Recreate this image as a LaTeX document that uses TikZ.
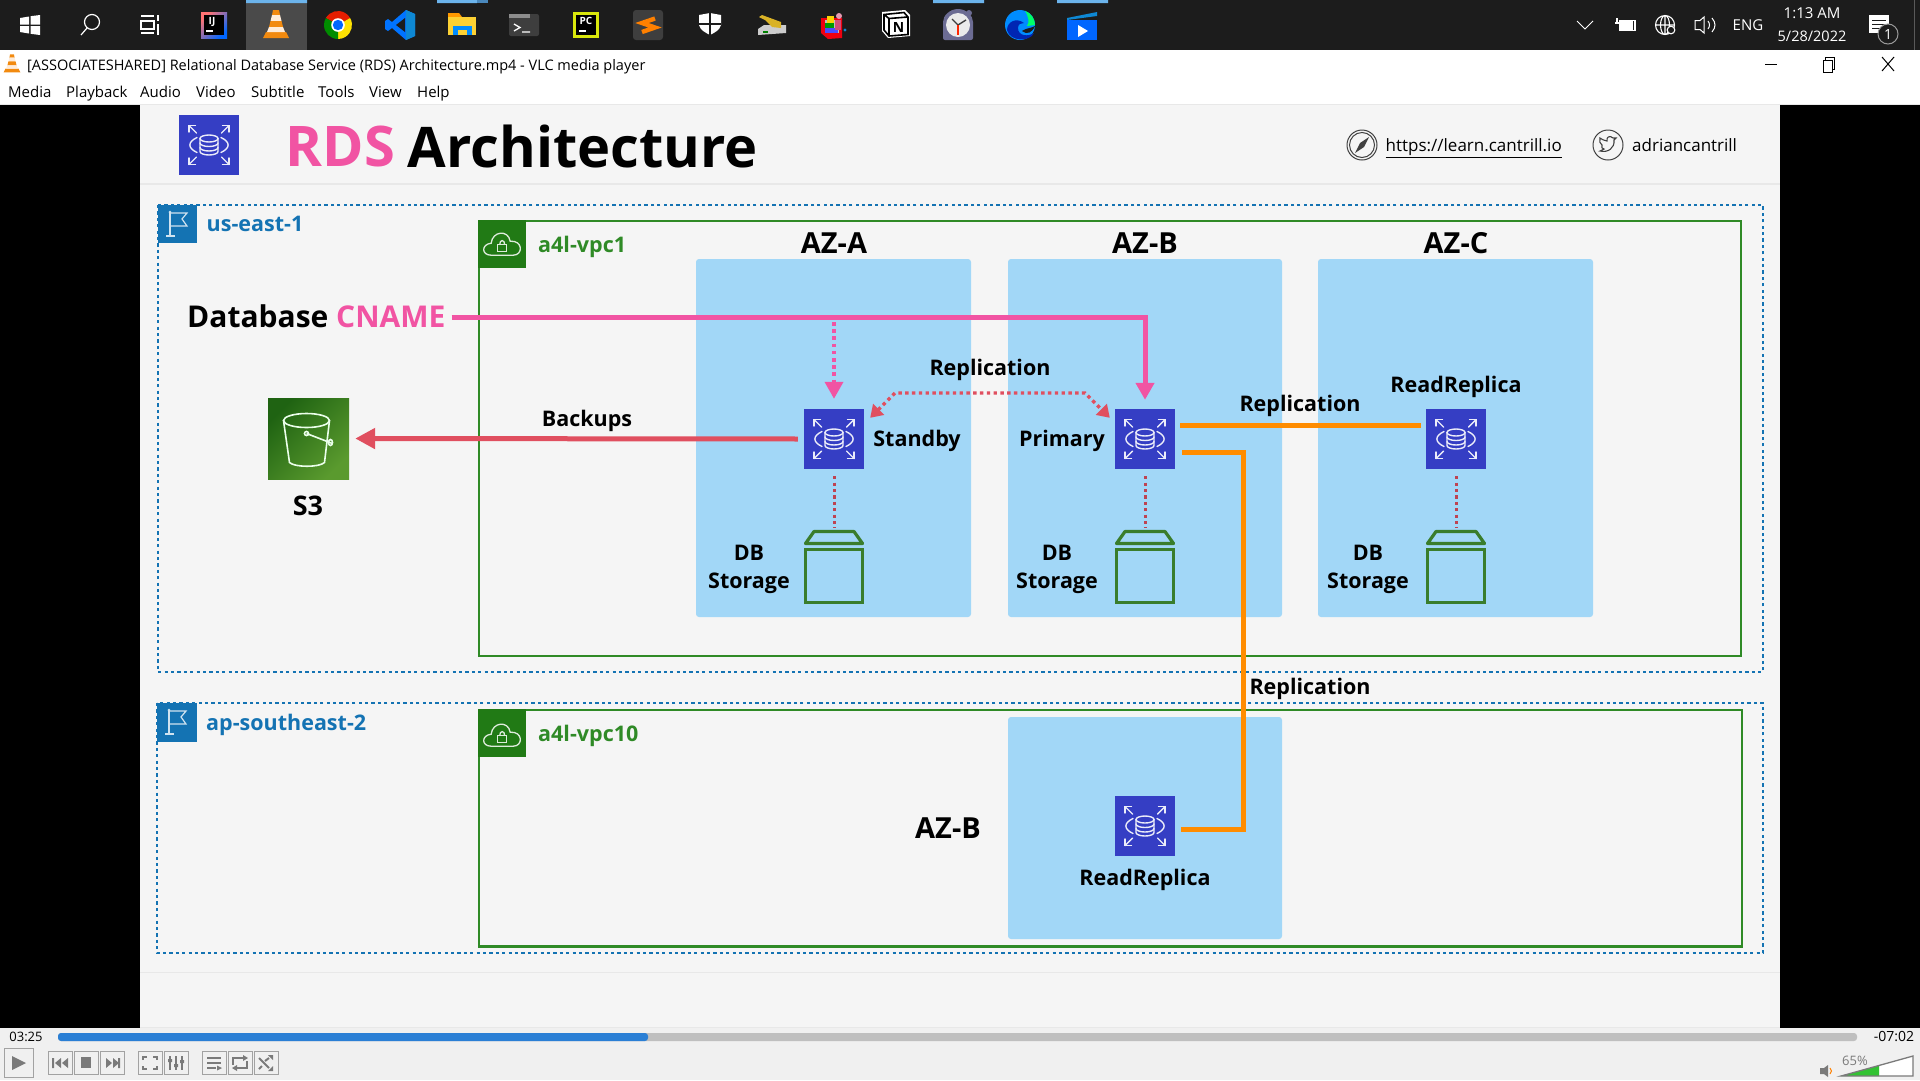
\documentclass[tikz,border=0pt]{standalone}
\usepackage{fontspec}
\setmainfont{Open Sans}
\usetikzlibrary{arrows.meta,calc}
\newcommand\fs[1]{\fontsize{#1}{#1}\selectfont}
\definecolor{slidebg}{HTML}{F5F5F5}
\definecolor{rulegrey}{HTML}{E8E8E8}
\definecolor{barbg}{HTML}{1C1C1C}
\definecolor{azblue}{HTML}{A2D7F7}
\definecolor{vpcgreen}{HTML}{2F8A26}
\definecolor{vpctag}{HTML}{217A15}
\definecolor{regblue}{HTML}{1473B3}
\definecolor{pinkc}{HTML}{F154A3}
\definecolor{redc}{HTML}{E04F5F}
\definecolor{orangec}{HTML}{FF8C00}
\definecolor{rdsblue}{HTML}{353EC4}
\definecolor{stgreen}{HTML}{3A7D2C}
\definecolor{vlcbar}{HTML}{F0F0F0}
\definecolor{btn}{HTML}{7A7A7A}
\definecolor{progblue}{HTML}{2A7FD5}
\definecolor{tbhi}{HTML}{6CB4EC}
\definecolor{tbhid}{HTML}{4A88BC}
\definecolor{conebg}{HTML}{4A4A4A}
\definecolor{conec}{HTML}{F28A0F}
\definecolor{tkgrey}{HTML}{3E3E3E}
\definecolor{sdark}{HTML}{1F6312}
\definecolor{slight}{HTML}{5A9A2E}
\tikzset{
  x=1pt,y=-1pt,
  lbl/.style={inner sep=0pt,font=\fs{21.5}\bfseries,text=black,align=center,text height=16pt,text depth=5pt},
  azlbl/.style={inner sep=0pt,font=\fs{29}\bfseries,text=black},
  ui/.style={inner sep=0pt,font=\fs{15},text=black,text height=11pt,text depth=3.5pt},
  link/.style={inner sep=0pt,font=\fs{17},text=black,text height=13pt,text depth=4pt},
  azbox/.style={fill=azblue,rounded corners=3pt},
  regionbox/.style={draw=regblue,line width=1.6pt,dash pattern=on 3.2pt off 3.2pt},
  vpcbox/.style={draw=vpcgreen,line width=2.2pt},
  tagblue/.style={fill=regblue},
  taggreen/.style={fill=vpctag},
  rdsbox/.style={fill=rdsblue,minimum width=60pt,minimum height=60pt,inner sep=0pt},
  lidline/.style={draw=stgreen,line width=3.2pt,line join=round},
  stbox/.style={draw=stgreen,line width=3.2pt,minimum width=57pt,minimum height=53pt,inner sep=0pt},
  cnameline/.style={draw=pinkc,line width=5pt},
  cnamedot/.style={draw=pinkc,line width=3.6pt,dash pattern=on 3.6pt off 3.6pt},
  redline/.style={draw=redc,line width=5pt},
  reddot/.style={draw=redc,line width=3.4pt,dash pattern=on 3.4pt off 3.4pt},
  stdot/.style={draw=redc!85!black,line width=3pt,dash pattern=on 3.2pt off 3.2pt},
  orangeline/.style={draw=orangec,line width=5pt},
  ctrl/.style={draw=btn!70,fill=vlcbar,line width=1pt},
  rdsglyph/.pic={
    \begin{scope}[draw=white!90!rdsblue,line width=1.4pt,line cap=round]
      \draw (-9,-6.5) -- (-9,6.5) arc[x radius=9,y radius=3.5,start angle=180,end angle=0] -- (9,-6.5);
      \draw (0,-6.5) ellipse[x radius=9,y radius=3.5];
      \draw (-9,-2) arc[x radius=9,y radius=3.5,start angle=180,end angle=0];
      \draw (-9,2.5) arc[x radius=9,y radius=3.5,start angle=180,end angle=0];
      \draw (-12,-7.5) .. controls (-21.5,-3) and (-21.5,3) .. (-12,7.5);
      \draw (12,-7.5) .. controls (21.5,-3) and (21.5,3) .. (12,7.5);
      \foreach \sx/\sy in {-1/-1,1/-1,-1/1,1/1}{
        \draw (\sx*12.5,\sy*12) -- (\sx*20,\sy*19.5);
        \draw (\sx*13.5,\sy*19.5) -- (\sx*20,\sy*19.5) -- (\sx*20,\sy*13);
      }
    \end{scope}
  },
  flagglyph/.pic={
    \begin{scope}[draw=white!80!regblue,line width=1.2pt]
      \draw (12,7) -- (12,31) (8,31) -- (17,31);
      \draw (12,8) -- (29,8) -- (24,14) -- (29,21) -- (12,21);
      \fill[white!80!regblue] (12,7) circle (1.5);
    \end{scope}
  },
  cloudglyph/.pic={
    \begin{scope}[draw=white!85!vpctag,line width=1.3pt]
      \draw (-11,11) .. controls (-21,11) and (-21,0) .. (-11,-1) .. controls (-10,-13) and (6,-15) .. (8,-3) .. controls (21,-4) and (21,11) .. (11,11) -- cycle;
      \draw (-4.5,0.5) rectangle (4.5,7.5);
      \draw (-2.5,0.5) .. controls (-2.5,-5) and (2.5,-5) .. (2.5,0.5);
    \end{scope}
  },
  bucketglyph/.pic={
    \begin{scope}[draw=white!92!green,line width=1.6pt,xshift=-2pt]
      \draw (0,-18) ellipse[x radius=23,y radius=7];
      \draw (-23,-18) -- (-17,24) .. controls (-12,29) and (13,29) .. (18,24) -- (23,-18);
      \draw (0,-5) -- (26,5);
      \draw (0,-5) circle (2);
      \draw (24,4) ellipse[x radius=2,y radius=3];
    \end{scope}
  },
  cone/.pic={
    \fill[conec] (-13,13) -- (13,13) -- (10,7) -- (-10,7) -- cycle;
    \fill[conec] (-3,-15) -- (3,-15) -- (4,-10) -- (-4,-10) -- cycle;
    \fill[white!85!orange] (-4,-10) -- (4,-10) -- (5.5,-4) -- (-5.5,-4) -- cycle;
    \fill[conec] (-5.5,-4) -- (5.5,-4) -- (7,2) -- (-7,2) -- cycle;
    \fill[white!85!orange] (-7,2) -- (7,2) -- (9,7) -- (-9,7) -- cycle;
  }
}
\begin{document}
\begin{tikzpicture}
\useasboundingbox (0,0) rectangle (1920,1080);
% window chrome
\fill[white] (0,0) rectangle (1920,105);
\fill[barbg] (0,0) rectangle (1920,50);
\fill[black] (0,105) rectangle (140,1028);
\fill[black] (1780,105) rectangle (1920,1028);
\fill[slidebg] (140,105) rectangle (1780,1028);
\fill[vlcbar] (0,1028) rectangle (1920,1080);
\draw[rulegrey,line width=1.5pt] (0,104.5) -- (1920,104.5);
\draw[rulegrey,line width=2pt] (140,184) -- (1780,184);
\draw[rulegrey,line width=1.5pt] (140,972.5) -- (1780,972.5);
\draw[rulegrey,line width=1pt] (140,1027.5) -- (1780,1027.5);
% taskbar
\fill[white] (20,18) -- (29,16.5) -- (29,24.5) -- (20,24.5) -- cycle (30.5,16.2) -- (40,15) -- (40,24.5) -- (30.5,24.5) -- cycle (20,26) -- (29,26) -- (29,33.5) -- (20,32) -- cycle (30.5,26) -- (40,26) -- (40,35) -- (30.5,33.8) -- cycle;
\draw[white,line width=1.2pt] (92,22) circle (7.5) (87,28) -- (81,35);
\draw[white,line width=1.2pt] (141,21) rectangle (154,29) (141,16) -- (154,16) (141,33) -- (154,33) (158,15) -- (158,21) (158,24) -- (158,35);
\shade[left color=pink!60!red,right color=blue!60!cyan,shading angle=45] (201,12) rectangle (227,38);
\fill[black] (204,15) rectangle (224,35);
\node[inner sep=0pt,text=white,font=\fs{10}\bfseries] (tbij) at (212,22) {IJ};
\draw[white,line width=1.4pt] (206,31) -- (213,31);
\fill[conebg] (246,0) rectangle (307,50);
\pic at (276,25) {cone};
\fill[red!75!orange!90!black] (338,25) -- ++(210:14) arc[radius=14,start angle=210,end angle=330] -- cycle;
\fill[yellow!85!orange] (338,25) -- ++(330:14) arc[radius=14,start angle=330,end angle=450] -- cycle;
\fill[green!55!black] (338,25) -- ++(90:14) arc[radius=14,start angle=90,end angle=210] -- cycle;
\fill[white] (338,25) circle (6.8);
\fill[blue!60!cyan] (338,25) circle (5.2);
\fill[blue!55!cyan] (406,10) -- (415,14) -- (415,36) -- (406,40) -- (392,28) -- (388,31) -- (385,29) -- (385,21) -- (388,19) -- (392,22) -- cycle;
\fill[barbg] (405,18) -- (396,25) -- (405,32) -- cycle;
\fill[cyan!70!blue] (406,10) -- (415,14) -- (415,36) -- (406,40) -- cycle;
\fill[orange!80!yellow] (448,13) -- (459,13) -- (462,17) -- (448,17) -- cycle;
\fill[yellow!60!orange!80!white] (448,17) rectangle (476,35);
\fill[blue!45!cyan] (453,26) rectangle (472,35);
\fill[yellow!60!orange!80!white] (458,30) rectangle (467,35);
\fill[tkgrey,rounded corners=2pt] (509,14) rectangle (539,36);
\fill[white!55!black] (509,14) rectangle (530,18);
\draw[white,line width=1.3pt] (514,24) -- (520,27.5) -- (514,31) (522,32) -- (530,32);
\fill[yellow!85!green] (573,12) rectangle (599,38);
\fill[black] (576,15) rectangle (596,35);
\node[inner sep=0pt,text=white,font=\fs{10}\bfseries] (tbpc) at (586,21) {PC};
\draw[white,line width=1.4pt] (579,31) -- (586,31);
\fill[tkgrey,rounded corners=3pt] (633,10) rectangle (663,40);
\draw[orange,line width=4.4pt] (655,18.5) -- (642,23) -- (655,27.5) -- (642,32);
\fill[white] (699,15) -- (710,13) -- (721,15) -- (721,25) .. controls (720,30) and (714,33) .. (710,35) .. controls (706,33) and (700,30) .. (699,25) -- cycle;
\draw[barbg,line width=1.2pt] (710,13) -- (710,35) (699,24) -- (721,24);
\fill[white!80!black] (758,29) -- (764,25) -- (786,25) -- (786,33) -- (758,35) -- cycle;
\fill[green!50!black] (763,31) rectangle (768,33);
\fill[brown!60!yellow] (759,17) -- (762,15) -- (781,22) -- (781,28) -- (772,27) -- (765,20) -- cycle;
\fill[red!75!purple] (821,18) -- (842,18) -- (842,38) -- (828,39) -- (821,33) -- cycle;
\fill[white!75!black] (825,20) rectangle (839,33);
\fill[yellow!70!orange] (827,16) rectangle (834,23);
\fill[green!60!black] (825,23) rectangle (834,28);
\fill[blue!70!white] (825,28) rectangle (838,33);
\fill[purple!70!white] (835,20) -- (841,20) -- (841,30) -- (835,30) -- cycle;
\fill[cyan!70!blue] (845,30) circle (1.7);
\fill[purple!40!white] (839,16) circle (3);
\fill[white] (882,12) -- (905,10) -- (910,15) -- (910,36) -- (888,38) -- (882,31) -- cycle;
\draw[black,line width=1.6pt] (884,14.5) -- (904,12.5) -- (908,17) -- (908,34.5) -- (889,36) -- (884,30) -- cycle (884,14.5) -- (889,18.5) -- (908,17) (889,18.5) -- (889,36);
\node[inner sep=0pt,text=black,font=\fs{14}\bfseries] (tbn) at (898.5,27) {N};
\fill[white!50!black!85!blue] (969,13) circle (3);
\fill[white!50!black!85!blue,rounded corners=2pt] (943,40) -- (943,24) arc[radius=15,start angle=180,end angle=360] -- (973,40) -- cycle;
\fill[white!92!black] (958,25) circle (12);
\draw[tkgrey,line width=1.4pt] (958,25) -- (952,19) (958,25) -- (966,20);
\draw[red!70!orange,line width=1.4pt] (958,25) -- (958,35);
\fill[blue!45!cyan] (1020,25) circle (15);
\fill[green!60!cyan] (1035,25) arc[radius=15,start angle=0,end angle=-70] .. controls (1028,16) and (1030,22) .. (1027,26) -- cycle;
\fill[barbg] (1022,31) .. controls (1027,35) and (1032,33) .. (1035,26) .. controls (1032,28) and (1026,28) .. (1022,31) -- cycle;
\fill[blue!65!black!85!cyan] (1007,30) .. controls (1010,42) and (1030,42) .. (1034,33) .. controls (1028,37) and (1018,36) .. (1018,28) .. controls (1018,24) and (1021,23) .. (1024,23) .. controls (1016,17) and (1007,22) .. (1007,30) -- cycle;
\fill[blue!60!cyan] (1067,20) rectangle (1097,40);
\fill[cyan!70!blue] (1067,18) -- (1097,12) -- (1097,16) -- (1067,20) -- cycle;
\fill[white] (1078,25) -- (1088,31) -- (1078,37) -- cycle;
\fill[tbhi] (246,0) rectangle (307,3) (437,0) rectangle (477,3) (933,0) rectangle (984,3) (1057,0) rectangle (1108,3);
\fill[tbhid] (477,0) rectangle (488,3);
% tray
\draw[white,line width=1pt] (1577,21) -- (1585,29) -- (1593,21);
\draw[white,line width=1.2pt] (1620,20.5) rectangle (1635,30.5);
\fill[white] (1620,20.5) rectangle (1633,30.5);
\draw[white,line width=1.2pt] (1615,23) -- (1620,23) (1617,18) -- (1617,23);
\draw[white,line width=1.1pt] (1665,25) circle (9.5) (1655.5,25) -- (1674.5,25) (1665,15.5) -- (1665,34.5) (1665,25) ellipse[x radius=4.5,y radius=9.5];
\draw[white,fill=barbg,line width=1.1pt] (1671,30) circle (3.8);
\draw[white,line width=1pt] (1695,20.5) -- (1700,20.5) -- (1704,17) -- (1704,33) -- (1700,29.5) -- (1695,29.5) -- cycle (1708,21) .. controls (1710,24) and (1710,26) .. (1708,29) (1712,18) .. controls (1716,23) and (1716,27) .. (1712,32);
\node[ui,text=white] (teng) at (1748,27) {ENG};
\node[ui,text=white] (ttime) at (1812,15) {1:13 AM};
\node[ui,text=white,font=\fs{14.5}] (tdate) at (1812,38) {5/28/2022};
\fill[white] (1869,15) rectangle (1889,33);
\draw[barbg,line width=1pt] (1872,20) -- (1886,20) (1872,24) -- (1886,24) (1872,28) -- (1882,28);
\draw[white!60!black,fill=barbg,line width=1pt] (1888,34) circle (10);
\node[inner sep=0pt,text=white,font=\fs{14}] (tnotif) at (1888,34) {1};
\draw[white!35!black,line width=.8pt] (1914,0) -- (1914,50);
% title and menu
\pic[scale=.65] at (12,64) {cone};
\node[ui,font=\fs{14.5},anchor=west] (wintitle) at (27,66.5) {[ASSOCIATESHARED] Relational Database Service (RDS) Architecture.mp4 - VLC media player};
\draw[black,line width=1pt] (1765,64) -- (1777,64);
\draw[black,line width=1pt] (1823,60) rectangle (1832,72) (1825,60) -- (1825,57) -- (1834,57) -- (1834,69) -- (1832,69);
\draw[black,line width=1pt] (1882,57) -- (1894,71) (1894,57) -- (1882,71);
\foreach \tx/\nm/\t in {8/m1/Media,66/m2/Playback,140/m3/Audio,196/m4/Video,251/m5/Subtitle,318/m6/Tools,369/m7/View,417/m8/Help}{
  \node[ui,anchor=west] (\nm) at (\tx,94) {\t};
}
% header
\node[rdsbox] (titleicon) at (209,145) {};
\pic at (titleicon) {rdsglyph};
\node[inner sep=0pt,anchor=west,font=\fs{56}\bfseries,text=pinkc] (titlea) at (285.5,146) {RDS};
\node[inner sep=0pt,anchor=west,font=\fs{56}\bfseries,text=black] (titleb) at (407.5,146) {Architecture};
\draw[black!75,line width=1pt] (1362,145) circle (15) (1362,145) circle (12.5);
\fill[black!75] (1369,137) -- (1364,147) -- (1355,153) -- (1360,143) -- cycle;
\node[link,anchor=west] (site) at (1385.5,147) {\underline{https://learn.cantrill.io}};
\draw[black!75,line width=1pt] (1608,145) circle (15);
\draw[black!75,line width=1.1pt] (1600,151) .. controls (1608,153) and (1615,148) .. (1614,140) -- (1616,138) -- (1613,138) .. controls (1610,135) and (1606,137) .. (1607,141) .. controls (1604,141) and (1602,139) .. (1600,138) .. controls (1599,141) and (1600,144) .. (1602,145) .. controls (1601,147) and (1602,149) .. (1604,149) -- cycle;
\node[link,anchor=west] (tw) at (1632,147) {adriancantrill};
% us-east-1
\draw[regionbox] (158,205) rectangle (1763,672);
\node[tagblue,minimum width=39pt,minimum height=38pt,inner sep=0pt,anchor=north west] (flag1) at (158,205) {};
\pic at (flag1.north west) {flagglyph};
\node[lbl,anchor=west,text=regblue] (reg1) at (206.5,226) {us-east-1};
\draw[vpcbox] (479,221) rectangle (1741,656);
\node[taggreen,minimum width=48pt,minimum height=48pt,inner sep=0pt,anchor=north west] (vpc1tag) at (478,220) {};
\pic at (vpc1tag) {cloudglyph};
\node[lbl,anchor=west,text=vpcgreen] (vpc1) at (538,246.5) {a4l-vpc1};
\fill[azbox] (696,259) rectangle (971,617);
\fill[azbox] (1008,259) rectangle (1282,617);
\fill[azbox] (1318,259) rectangle (1593,617);
\node[azlbl] (aza) at (834,243) {AZ-A};
\node[azlbl] (azb) at (1145,243) {AZ-B};
\node[azlbl] (azc) at (1456,243) {AZ-C};
% ap-southeast-2
\draw[regionbox] (157,703) rectangle (1763,953);
\node[tagblue,minimum width=40pt,minimum height=39pt,inner sep=0pt,anchor=north west] (flag2) at (157,703) {};
\pic at (flag2.north west) {flagglyph};
\node[lbl,anchor=west,text=regblue] (reg2) at (206,725) {ap-southeast-2};
\draw[vpcbox] (479,710) rectangle (1742,946.5);
\node[taggreen,minimum width=48pt,minimum height=48pt,inner sep=0pt,anchor=north west] (vpc2tag) at (478,709) {};
\pic[yshift=-2pt] at (vpc2tag) {cloudglyph};
\node[lbl,anchor=west,text=vpcgreen] (vpc2) at (538,736) {a4l-vpc10};
\fill[azbox] (1008,717) rectangle (1282,939);
\node[azlbl] (azb2) at (948,828) {AZ-B};
% RDS instances
\node[rdsbox] (standby) at (834,439) {};
\node[rdsbox] (primary) at (1145,439) {};
\node[rdsbox] (rrc) at (1456,439) {};
\node[rdsbox] (rrlow) at (1145,826) {};
\foreach \n in {standby,primary,rrc,rrlow}{\pic at (\n) {rdsglyph};}
\node[lbl] (lstandby) at (917,441) {Standby};
\node[lbl] (lprimary) at (1062,441) {Primary};
\node[lbl] (lrrc) at (1456,386.5) {ReadReplica};
\node[lbl] (lrrlow) at (1145,879.5) {ReadReplica};
% storage
\foreach \n/\cx in {A/834,B/1145,C/1456}{
  \coordinate (lid\n) at (\cx,531);
  \draw[lidline] (\cx-20,531.5) -- (\cx+20,531.5) -- (\cx+28.5,543.5) -- (\cx-28.5,543.5) -- cycle;
  \node[stbox] (st\n) at (\cx,576) {};
}
\node[lbl] (da) at (749,554.5) {DB};
\node[lbl] (sa) at (749,582.5) {Storage};
\node[lbl] (db) at (1057,554.5) {DB};
\node[lbl] (sb) at (1057,582.5) {Storage};
\node[lbl] (dc) at (1368,554.5) {DB};
\node[lbl] (sc) at (1368,582.5) {Storage};
% S3
\node[minimum width=81pt,minimum height=81pt,inner sep=0pt,shading=axis,left color=sdark,right color=slight,shading angle=45] (s3) at (308.5,438.5) {};
\pic at (s3) {bucketglyph};
\node[lbl,font=\fs{27}\bfseries,text height=20pt,text depth=0pt] (ls3) at (308,505) {S3};
% cname
\node[inner sep=0pt,anchor=west,font=\fs{30}\bfseries] (cname) at (187,316) {Database \textcolor{pinkc}{CNAME}};
\coordinate (cnamecorner) at (1145,317);
\coordinate (cnamedrop) at (834,322);
\coordinate (rl) at (895,393);
\coordinate (rr) at (1085,393);
\coordinate (orgA) at (1243,452);
\coordinate (orgB) at (1243,829);
\coordinate (orgH) at (1300,425);
% connectors
\draw[cnameline,line join=miter,-{Triangle[length=17pt,width=18pt]},shorten >=9pt] ([xshift=6pt]cname.east |- cnamecorner) -- (cnamecorner) -- (primary.north);
\draw[cnamedot,-{Triangle[length=17pt,width=18pt]},shorten >=10pt] (cnamedrop) -- (standby.north);
\draw[redline,-{Triangle[length=20pt,width=20pt]},shorten <=6pt,shorten >=6pt] (standby.west) -- (s3.east);
\draw[reddot,{Triangle[length=12pt,width=15pt]}-{Triangle[length=12pt,width=15pt]}] ([shift={(6,9)}]standby.north east) -- (rl) -- (rr) -- ([shift={(-5,9)}]primary.north west);
\draw[orangeline,shorten <=5pt,shorten >=5pt] (primary.east |- orgH) -- (rrc.west |- orgH);
\draw[orangeline,line join=miter,shorten <=7pt,shorten >=6pt] (primary.east |- orgA) -- (orgA) -- (orgB) -- (rrlow.east |- orgB);
\foreach \a/\b in {standby/A,primary/B,rrc/C}{
  \draw[stdot,shorten <=7pt,shorten >=3pt] (\a.south) -- (lid\b);
}
\node[lbl] (rep1) at (990,369.5) {Replication};
\node[lbl] (rep2) at (1300,406) {Replication};
\node[lbl] (rep3) at (1310,688.5) {Replication};
\node[lbl] (bk) at (587,420.5) {Backups};
% VLC controls
\node[ui,font=\fs{13}] (t1) at (26,1037.5) {03:25};
\fill[black!25,rounded corners=3pt] (58,1033) rectangle (1857,1041);
\fill[progblue,rounded corners=3pt] (58,1033) rectangle (648,1041);
\node[ui,font=\fs{14}] (t2) at (1894,1037.5) {-07:02};
\draw[ctrl] (4.5,1048.5) rectangle (33,1077.5);
\fill[btn] (12,1056) -- (26,1063) -- (12,1070) -- cycle;
\foreach \xa in {48,74,100,138,164,202,228,254}{
  \draw[ctrl] (\xa,1051.5) rectangle (\xa+24,1074.5);
}
\fill[btn] (52,1058) rectangle (54,1068) (61,1058) -- (61,1068) -- (55,1063) -- cycle (68,1058) -- (68,1068) -- (62,1063) -- cycle;
\fill[btn] (81,1057) rectangle (91,1068);
\fill[btn] (106,1058) -- (106,1068) -- (112,1063) -- cycle (113,1058) -- (113,1068) -- (119,1063) -- cycle (118,1058) rectangle (120,1068);
\draw[btn,line width=2pt] (143,1060) -- (143,1057) -- (147,1057) (153,1057) -- (157,1057) -- (157,1060) (143,1066) -- (143,1069) -- (147,1069) (153,1069) -- (157,1069) -- (157,1066);
\draw[btn,line width=1.5pt] (170,1056) -- (170,1070) (176,1056) -- (176,1070) (182,1056) -- (182,1070);
\fill[btn] (168,1059) rectangle (172,1062) (174,1064) rectangle (178,1067) (180,1060) rectangle (184,1063);
\draw[btn,line width=2pt] (207,1058) -- (221,1058) (207,1063) -- (221,1063) (207,1068) -- (216,1068);
\fill[btn] (217,1065.5) -- (222,1068) -- (217,1070.5) -- cycle;
\draw[btn,line width=2pt] (233,1065) -- (233,1058) -- (243,1058) (247,1061) -- (247,1068) -- (237,1068);
\fill[btn] (243,1055) -- (248,1058) -- (243,1061) -- cycle (237,1065) -- (232,1068) -- (237,1071) -- cycle;
\draw[btn,line width=2pt] (259,1058) -- (269,1068) (259,1069) -- (262,1066) (265,1061) -- (269,1058);
\fill[btn] (268,1055) -- (273,1055) -- (273,1060) -- cycle (268,1071) -- (273,1071) -- (273,1066) -- cycle;
% volume
\fill[btn] (1820,1068) -- (1824,1068) -- (1828,1065) -- (1828,1077) -- (1824,1074) -- (1820,1074) -- cycle;
\draw[orange,line width=1pt] (1830,1068) .. controls (1832,1070) and (1832,1072) .. (1830,1074);
\fill[white] (1841,1076) -- (1913,1056) -- (1913,1076) -- cycle;
\fill[green!70!black!80!white] (1841,1076) -- (1879,1065.5) -- (1879,1076) -- cycle;
\draw[btn,line width=1.3pt] (1841,1076) -- (1913,1056) -- (1913,1076) -- cycle;
\node[ui,font=\fs{13},text=btn] (vol) at (1855,1062) {65\%};
\end{tikzpicture}
\end{document}
